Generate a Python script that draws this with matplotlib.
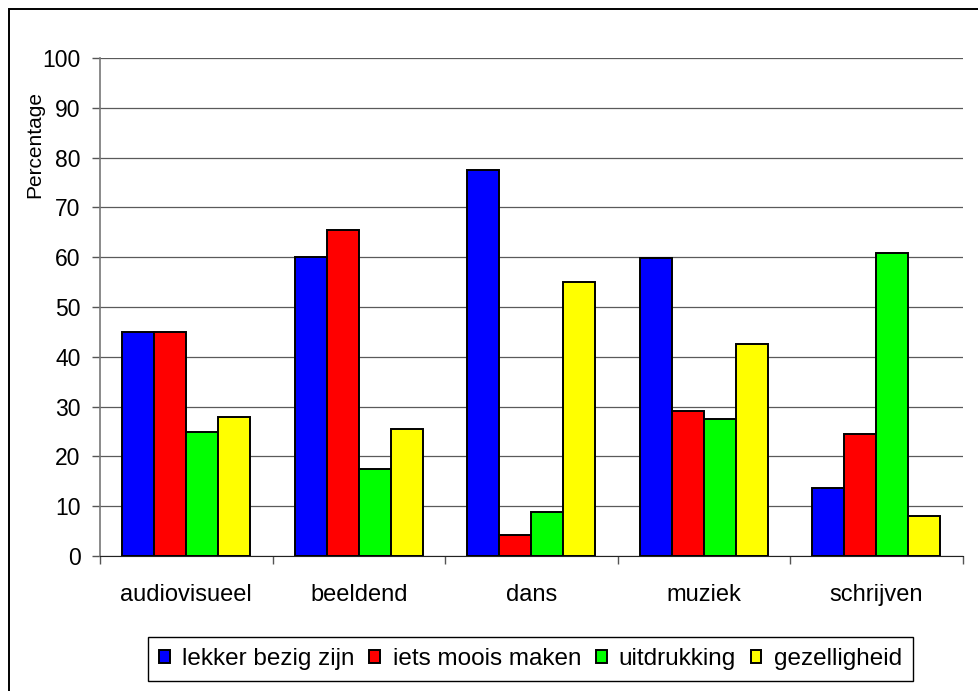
import numpy as np
import matplotlib.pyplot as plt
from matplotlib.patches import Rectangle

# Motives per discipline (percentages)
categories = ['audiovisueel', 'beeldend', 'dans', 'muziek', 'schrijven']
series_names = ['lekker bezig zijn', 'iets moois maken', 'uitdrukking', 'gezelligheid']
lekker_bezig = [45, 60, 77.6, 59.8, 13.7]
iets_moois = [45, 65.5, 4.2, 29.1, 24.5]
uitdrukking = [25, 17.5, 8.8, 27.6, 60.8]
gezelligheid = [28, 25.6, 55.1, 42.5, 8.0]
colors = ['#0000ff', '#ff0000', '#00ff00', '#ffff00']

plt.rcParams['font.family'] = ['Liberation Sans', 'DejaVu Sans']

fig = plt.figure(figsize=(9.79, 6.91), dpi=100)
ax = fig.add_axes([100 / 979, 1 - 556 / 691, 862.5 / 979, (556 - 58) / 691])

x = np.arange(len(categories))
width = 0.186
all_series = [lekker_bezig, iets_moois, uitdrukking, gezelligheid]
for i, (vals, name, col) in enumerate(zip(all_series, series_names, colors)):
    ax.bar(x + (i - 1.5) * width, vals, width, color=col, edgecolor='black',
           linewidth=1.4, label=name, zorder=3)

ax.set_xlim(-0.5, len(categories) - 0.5)
ax.set_ylim(0, 100)
ax.set_yticks(np.arange(0, 101, 10))
ax.yaxis.grid(True, color='#5a5a5a', linewidth=0.9, zorder=0)

# category labels centred, tick marks on the boundaries
ax.set_xticks(x)
ax.set_xticklabels(categories, fontsize=17)
ax.tick_params(axis='x', which='major', length=0, pad=20)
ax.set_xticks(np.arange(-0.5, len(categories)), minor=True)
ax.tick_params(axis='x', which='minor', length=6, width=1, color='#555555', direction='out')
ax.tick_params(axis='y', labelsize=16.5, length=6, width=1, color='#555555', pad=8)

for side in ['top', 'right']:
    ax.spines[side].set_visible(False)
ax.spines['left'].set_color('#777777')
ax.spines['bottom'].set_color('#222222')
ax.spines['left'].set_linewidth(1.2)

fig.text(35 / 979, 1 - 145 / 691, 'Percentage', rotation=90, fontsize=15,
         ha='center', va='center')

leg = fig.legend(loc='center', bbox_to_anchor=(530.5 / 979, 1 - 659 / 691), ncol=4,
                 fontsize=17.5, frameon=True, fancybox=False, framealpha=1,
                 edgecolor='black', handlelength=0.45, handleheight=0.45,
                 handletextpad=0.5, columnspacing=0.6, borderpad=0.45)
leg.get_frame().set_linewidth(1.0)

# outer chart frame, running off the right and bottom edges
fig.patches.append(Rectangle((9 / 979, -0.05), 1.2, 1 - 9 / 691 + 0.05,
                             transform=fig.transFigure, fill=False,
                             edgecolor='black', linewidth=1.4))

fig.savefig('out.png', dpi=100)
